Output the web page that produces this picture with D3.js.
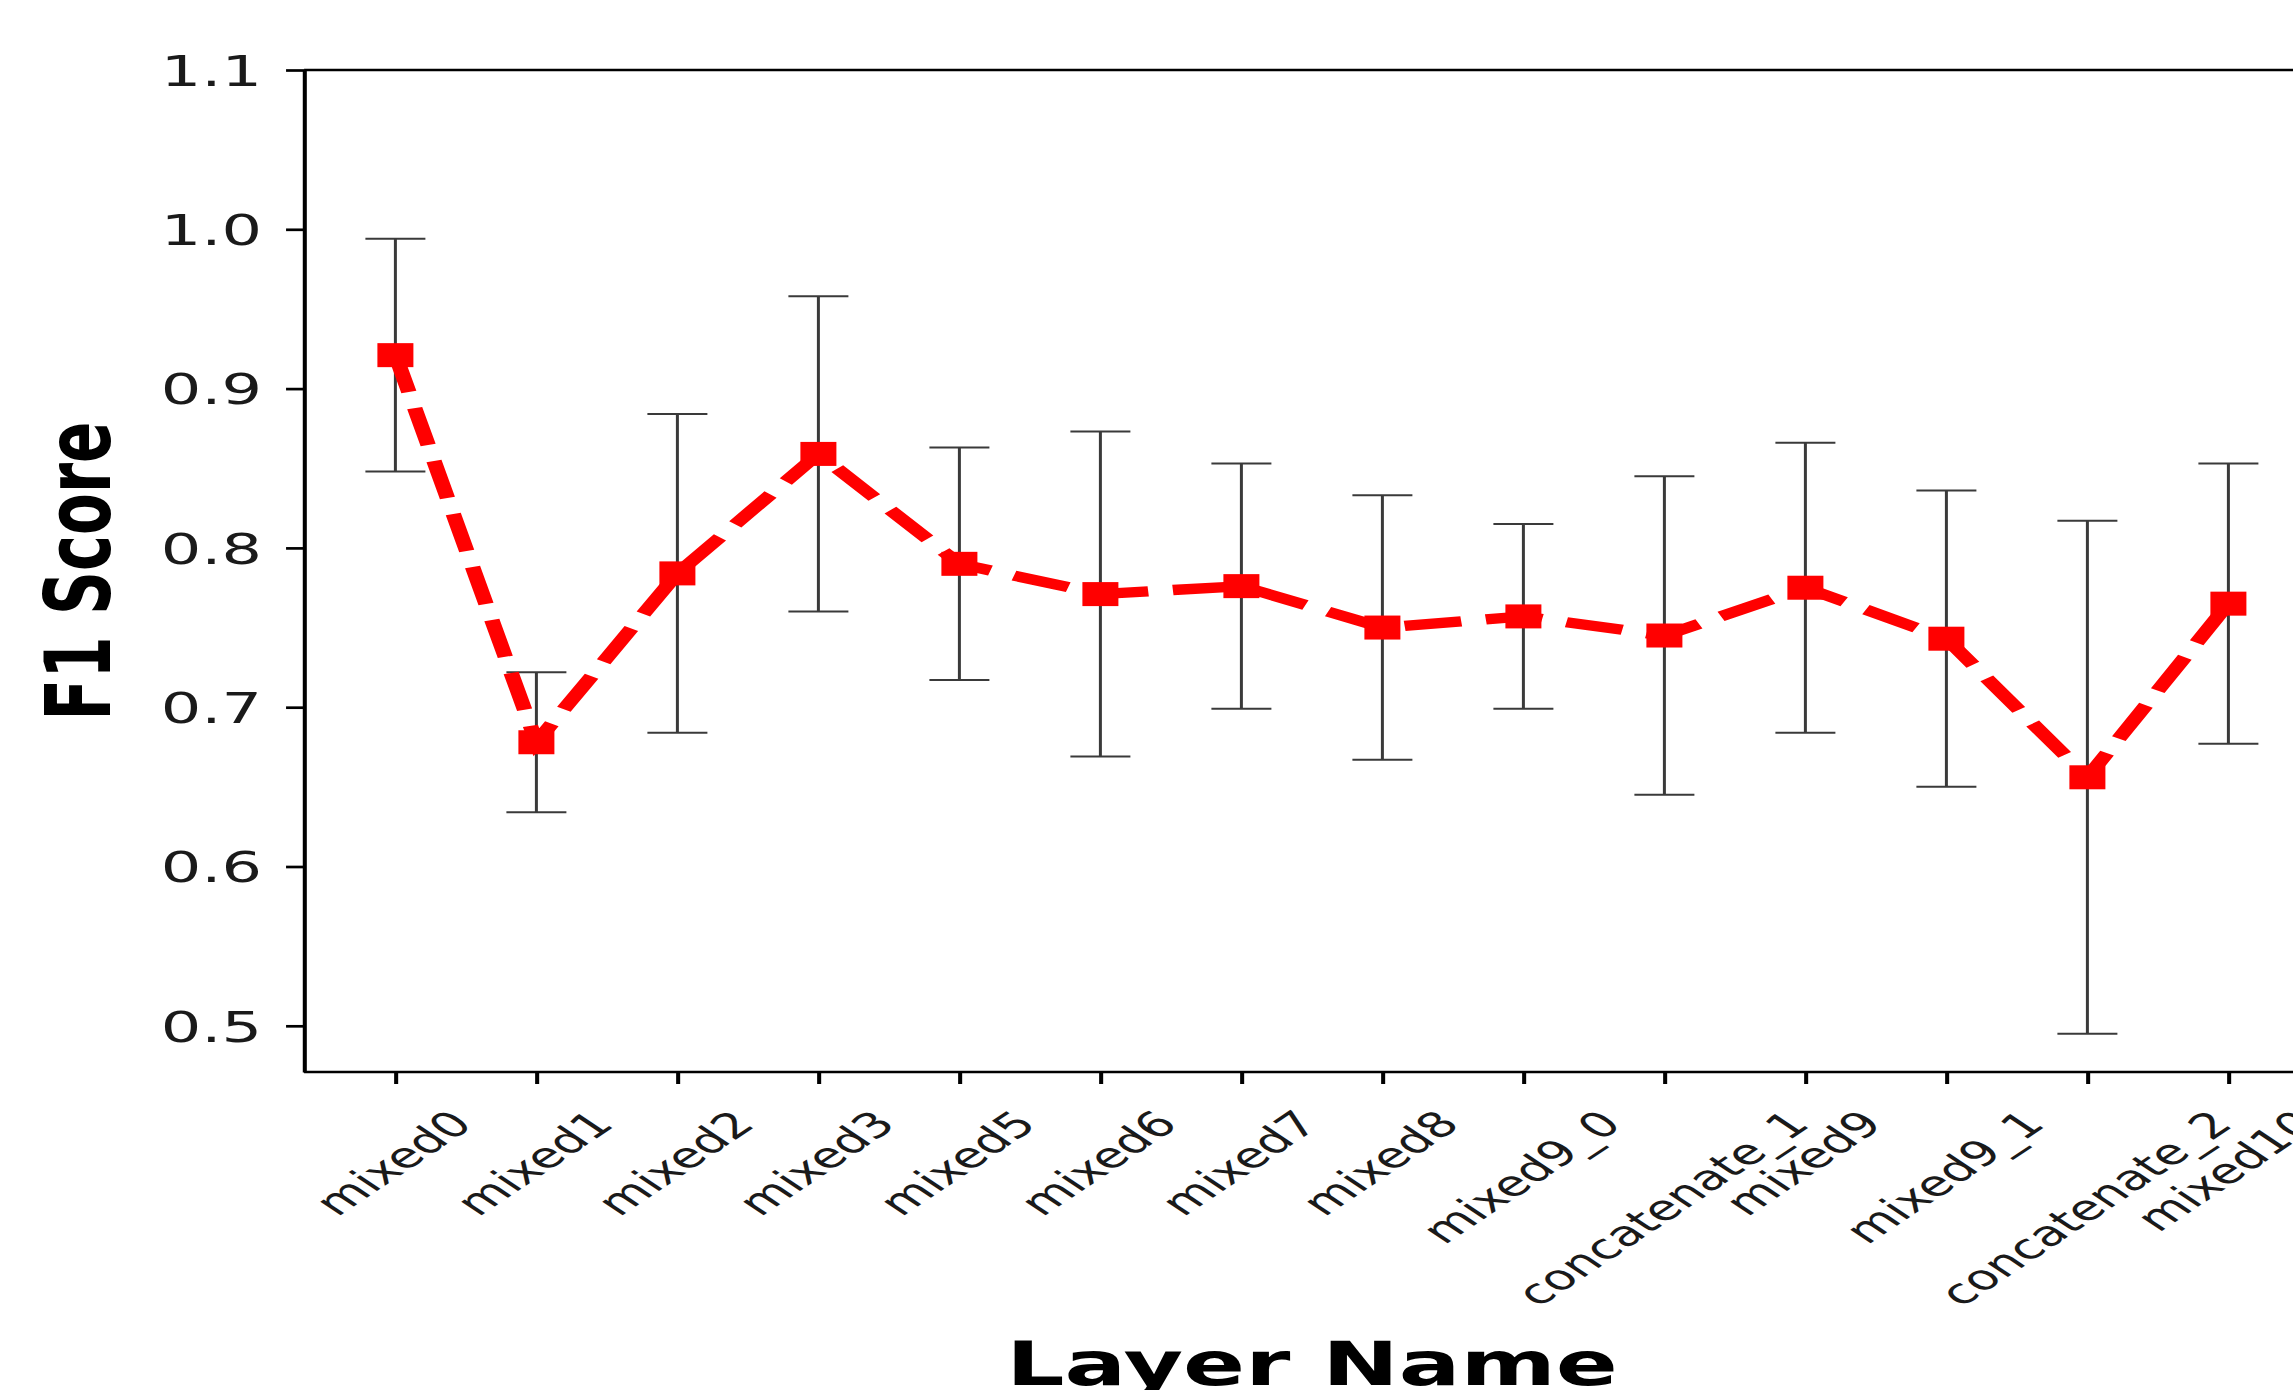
<!DOCTYPE html>
<html>
<head>
<meta charset="utf-8">
<script src="https://cdn.jsdelivr.net/npm/d3@7"></script>
<style>
	html, body { margin: 0; padding: 0; background: #fff; overflow: hidden; }
	svg { display: block; }
</style>
</head>
<body>
<svg id="chart"></svg>
<script>

// data
const layers = ["mixed0", "mixed1", "mixed2", "mixed3", "mixed5", "mixed6", "mixed7",
	"mixed8", "mixed9_0", "concatenate_1", "mixed9", "mixed9_1", "concatenate_2", "mixed10"];
const f1_scores = [0.921, 0.678, 0.784, 0.859, 0.790, 0.771, 0.776,
	0.750, 0.757, 0.745, 0.775, 0.743, 0.656, 0.765];
const f1_errors = [0.073, 0.044, 0.100, 0.099, 0.073, 0.102, 0.077,
	0.083, 0.058, 0.100, 0.091, 0.093, 0.161, 0.088];
const y_ticks = [0.5, 0.6, 0.7, 0.8, 0.9, 1.0, 1.1];


function whenDocumentLoaded(action) {
	if (document.readyState === "loading") {
		document.addEventListener("DOMContentLoaded", action);
	} else {
		action();
	}
}

whenDocumentLoaded(() => {

	// the original figure is stretched sideways, so draw in a narrower
	// space and let the viewBox stretch it out to the window
	let stretch = 1.5;
	let width = 2293;
	let height = 1390;
	let inner_width = width / stretch;

	let left = 202.7;
	let top = 70;
	let bottom = 1072;
	let step = 94;
	let x_start = 263.6;

	let svg = d3.select("#chart")
		.attr("width", width)
		.attr("height", height)
		.attr("viewBox", "0 0 " + inner_width + " " + height)
		.attr("preserveAspectRatio", "none");

	// matplotlib style margins round the points
	let n = layers.length;
	let scaleX = d3.scaleLinear()
		.domain([0, n - 1])
		.range([x_start, x_start + step * (n - 1)]);
	let right = scaleX(n - 1 + 0.65);

	let scaleY = d3.scaleLinear()
		.domain([0.471, 1.1])
		.range([bottom, top]);

	// top spine (right spine falls outside the picture)
	svg.append("line")
		.attr("x1", left).attr("x2", right)
		.attr("y1", top).attr("y2", top)
		.attr("stroke", "#000")
		.attr("stroke-width", 2.7);

	// y axis
	let yAxis = svg.append("g")
		.attr("transform", "translate(" + left + ",0)")
		.call(d3.axisLeft(scaleY)
			.tickValues(y_ticks)
			.tickFormat(d3.format(".1f"))
			.tickSize(12)
			.tickSizeOuter(0)
			.tickPadding(16));

	yAxis.selectAll("path, line")
		.attr("stroke", "#000")
		.attr("stroke-width", 2.7);
	yAxis.selectAll("text")
		.attr("dy", "0.36em")
		.attr("fill", "#1a1a1a")
		.style("font-family", "'DejaVu Sans'")
		.style("font-size", "42.5px");

	// x axis
	let tick_font = 35;
	let xAxis = svg.append("g")
		.attr("transform", "translate(0," + bottom + ")")
		.call(d3.axisBottom(scaleX)
			.tickValues(d3.range(n))
			.tickFormat((i) => layers[i])
			.tickSize(12)
			.tickSizeOuter(0));

	xAxis.select(".domain")
		.attr("d", "M" + left + ",0H" + right);
	xAxis.selectAll("path, line")
		.attr("stroke", "#000")
		.attr("stroke-width", 2.7);

	// rotated labels, their box centred under the tick like matplotlib does
	xAxis.selectAll("text")
		.attr("fill", "#1a1a1a")
		.style("font-family", "'DejaVu Sans'")
		.style("font-size", tick_font + "px")
		.attr("text-anchor", "middle")
		.attr("dy", null)
		.attr("x", 0)
		.attr("y", 0.262 * tick_font)
		.attr("transform", function() {
			let len = this.getComputedTextLength();
			let side = (len + tick_font) / Math.SQRT2;
			return "translate(0," + (35 + side / 2) + ") rotate(-45)";
		});

	// error bars
	let cap = 20;
	let bars = svg.append("g")
		.attr("stroke", "#3a3a3a")
		.attr("stroke-width", 2);

	layers.forEach((name, i) => {
		let cx = scaleX(i);
		let lo = scaleY(f1_scores[i] - f1_errors[i]);
		let hi = scaleY(f1_scores[i] + f1_errors[i]);
		bars.append("line")
			.attr("x1", cx).attr("x2", cx)
			.attr("y1", lo).attr("y2", hi);
		bars.append("line")
			.attr("x1", cx - cap).attr("x2", cx + cap)
			.attr("y1", hi).attr("y2", hi);
		bars.append("line")
			.attr("x1", cx - cap).attr("x2", cx + cap)
			.attr("y1", lo).attr("y2", lo);
	});

	// dashed red line
	let line = d3.line()
		.x((d, i) => scaleX(i))
		.y((d) => scaleY(d));

	svg.append("path")
		.datum(f1_scores)
		.attr("d", line)
		.attr("fill", "none")
		.attr("stroke", "#ff0000")
		.attr("stroke-width", 10.3)
		.attr("stroke-dasharray", "38,16.5");

	// square markers
	let marker = 24;
	svg.append("g")
		.selectAll("rect")
		.data(f1_scores)
		.enter()
		.append("rect")
			.attr("x", (d, i) => scaleX(i) - marker / 2)
			.attr("y", (d) => scaleY(d) - marker / 2)
			.attr("width", marker)
			.attr("height", marker)
			.attr("fill", "#ff0000");

	// axis titles
	svg.append("text")
		.attr("x", (left + right) / 2)
		.attr("y", 1385)
		.attr("text-anchor", "middle")
		.style("font-family", "'DejaVu Sans'")
		.style("font-weight", "bold")
		.style("font-size", "61px")
		.text("Layer Name");

	svg.append("text")
		.attr("transform", "translate(73.3," + (top + bottom) / 2 + ") rotate(-90)")
		.attr("text-anchor", "middle")
		.style("font-family", "'DejaVu Sans'")
		.style("font-weight", "bold")
		.style("font-size", "61px")
		.text("F1 Score");

});
</script>
</body>
</html>
